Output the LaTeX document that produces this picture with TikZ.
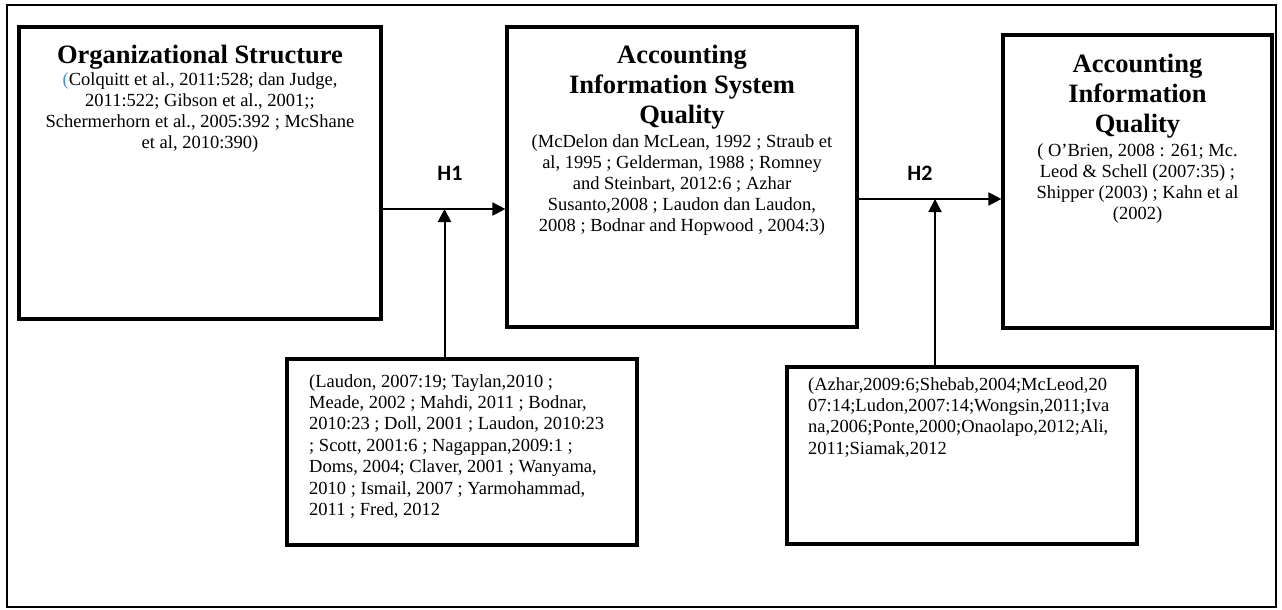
\documentclass[tikz,border=0pt]{standalone}
\usepackage{fontspec}
\setmainfont{Liberation Serif}
\newfontfamily\hfont{Carlito}
\usetikzlibrary{arrows.meta}
\definecolor{parblue}{RGB}{70,140,210}
\tikzset{
  mainbox/.style={draw, line width=3.2pt, inner sep=0pt},
  refbox/.style={draw, line width=3.2pt, inner sep=0pt},
  titletext/.style={anchor=north, align=center, inner sep=0pt, font=\fontsize{26.5}{30}\selectfont\bfseries},
  bodytext/.style={anchor=north, align=center, inner sep=0pt, font=\fontsize{18.5}{21.2}\selectfont},
  lefttext/.style={anchor=north west, align=left, inner sep=0pt, font=\fontsize{18.5}{21.4}\selectfont},
  hlabel/.style={inner sep=0pt, font=\hfont\fontsize{22}{24}\selectfont\bfseries},
  conn/.style={line width=2pt, -{Triangle[length=13pt,width=13pt]}},
}
\begin{document}
\begin{tikzpicture}[x=1pt,y=-1pt]
\useasboundingbox (0,0) rectangle (1282,610);
% outer frame
\draw[line width=1.4pt] (7,5) rectangle (1276,607);
% main boxes
\node[mainbox, minimum width=362pt, minimum height=292pt] (os) at (200,173) {};
\node[mainbox, minimum width=350pt, minimum height=300pt] (ais) at (682,177) {};
\node[mainbox, minimum width=269pt, minimum height=293pt] (aiq) at (1137.5,181.5) {};
% reference boxes
\node[refbox, minimum width=350pt, minimum height=186pt] (r1) at (462,452) {};
\node[refbox, minimum width=350pt, minimum height=177pt] (r2) at (962,455.5) {};
% titles
\node[titletext] (ost) at (200,44.5) {Organizational Structure};
\node[bodytext] (osb) at (200,72) {\textcolor{parblue}{(}Colquitt et al., 2011:528; dan Judge,\\2011:522; Gibson et al., 2001;;\\Schermerhorn et al., 2005:392 ; McShane\\et al, 2010:390)};
\node[titletext] (aist) at (682,44.5) {Accounting\\Information System\\Quality};
\node[bodytext] (aisb) at (682,134) {(McDelon dan McLean, 1992 ; Straub et\\al, 1995 ; Gelderman, 1988 ; Romney\\and Steinbart, 2012:6 ; Azhar\\Susanto,2008 ; Laudon dan Laudon,\\2008 ; Bodnar and Hopwood , 2004:3)};
\node[titletext] (aiqt) at (1137.5,53.5) {Accounting\\Information\\Quality};
\node[bodytext] (aiqb) at (1137.5,143) {( O’Brien, 2008 : 261; Mc.\\Leod \& Schell (2007:35) ;\\Shipper (2003) ; Kahn et al\\(2002)};
\node[lefttext] (r1t) at (309,374) {(Laudon, 2007:19; Taylan,2010 ;\\Meade, 2002 ; Mahdi, 2011 ; Bodnar,\\2010:23 ; Doll, 2001 ; Laudon, 2010:23\\; Scott, 2001:6 ; Nagappan,2009:1 ;\\Doms, 2004; Claver, 2001 ; Wanyama,\\2010 ; Ismail, 2007 ; Yarmohammad,\\2011 ; Fred, 2012};
\node[lefttext] (r2t) at (808,377) {(Azhar,2009:6;Shebab,2004;McLeod,20\\07:14;Ludon,2007:14;Wongsin,2011;Iva\\na,2006;Ponte,2000;Onaolapo,2012;Ali,\\2011;Siamak,2012};
% labels
\node[hlabel] (h1) at (450,173) {H1};
\node[hlabel] (h2) at (920,173) {H2};
% connector coordinates
\coordinate (y1) at (0,209);
\coordinate (y2) at (0,199);
\coordinate (x1) at (444.5,0);
\coordinate (x2) at (935,0);
% connectors
\draw[conn] (os.east |- y1) -- (ais.west |- y1);
\draw[conn] (ais.east |- y2) -- (aiq.west |- y2);
\draw[conn] (r1.north -| x1) -- (x1 |- y1);
\draw[conn] (r2.north -| x2) -- (x2 |- y2);
\end{tikzpicture}
\end{document}
